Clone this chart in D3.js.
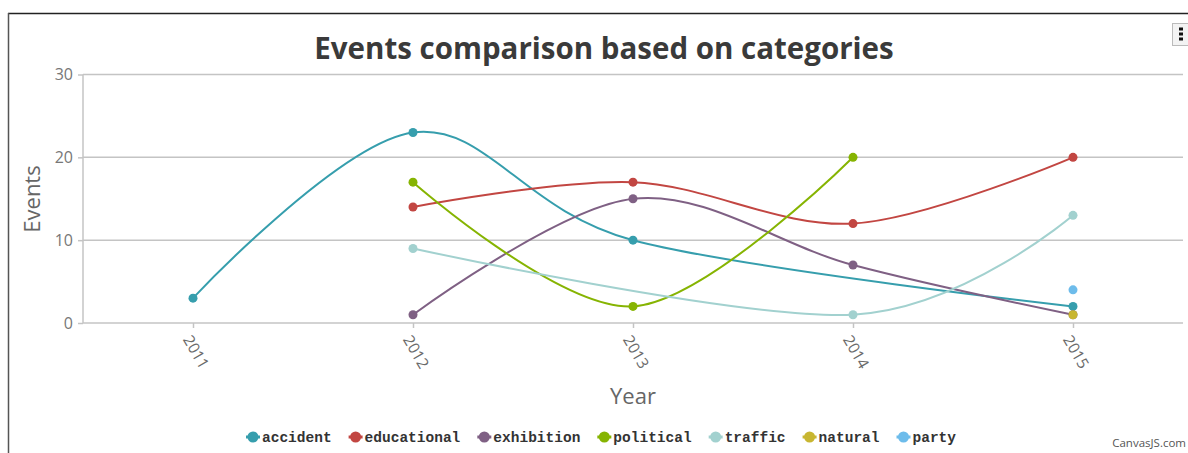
<!DOCTYPE html>
<html><head><meta charset="utf-8">
<script src="https://cdn.jsdelivr.net/npm/d3@7"></script>
<style>
html,body{margin:0;padding:0;background:#fff;}
svg{display:block;}
</style></head>
<body>
<svg id="chart" width="1188" height="453"></svg>
<script>
const years = [2011, 2012, 2013, 2014, 2015];
const yTicks = [0, 10, 20, 30];
const seriesNames = ["accident", "educational", "exhibition", "political", "traffic", "natural", "party"];
const seriesColors = ["#369EAD", "#C24642", "#7F6084", "#86B402", "#A2D1CF", "#C8B631", "#6DBCEB"];
const accident    = [[2011, 3], [2012, 23], [2013, 10], [2015, 2]];
const educational = [[2012, 14], [2013, 17], [2014, 12], [2015, 20]];
const exhibition  = [[2012, 1], [2013, 15], [2014, 7], [2015, 1]];
const political   = [[2012, 17], [2013, 2], [2014, 20]];
const traffic     = [[2012, 9], [2014, 1], [2015, 13]];
const natural     = [[2015, 1]];
const party       = [[2015, 4]];
const seriesData = [accident, educational, exhibition, political, traffic, natural, party];
const titleText = "Events comparison based on categories";
const xTitle = "Year", yTitle = "Events";

const svg = d3.select("#chart");
const font = "'Open Sans', sans-serif";

// frame
svg.append("line").attr("x1", 8).attr("x2", 1188).attr("y1", 13.5).attr("y2", 13.5).attr("stroke", "#222").attr("stroke-width", 1.5);
svg.append("line").attr("x1", 8.5).attr("x2", 8.5).attr("y1", 13).attr("y2", 453).attr("stroke", "#555").attr("stroke-width", 1.5);

const x = d3.scaleLinear().domain([2010.5, 2015.5]).range([83, 1183]);
const y = d3.scaleLinear().domain([0, 30]).range([323, 74.5]);

// gridlines
svg.append("g").selectAll("line").data(yTicks.filter(d => d > 0)).join("line")
  .attr("x1", 83).attr("x2", 1183).attr("y1", d => y(d)).attr("y2", d => y(d))
  .attr("stroke", "#c4c4c4").attr("stroke-width", 1.5);

// y axis
const yAxis = svg.append("g").attr("transform", "translate(83,0)")
  .call(d3.axisLeft(y).tickValues(yTicks).tickSize(5).tickPadding(5));
yAxis.select(".domain").attr("stroke", "#c4c4c4").attr("stroke-width", 1.5).attr("d", `M0,${y(30)}V${y(0)}`);
yAxis.selectAll(".tick line").attr("stroke", "#c4c4c4").attr("stroke-width", 1.5);
yAxis.selectAll(".tick text").attr("fill", "#777").style("font-family", font).style("font-size", "16px");

// x axis
const xAxis = svg.append("g").attr("transform", `translate(0,${y(0)})`)
  .call(d3.axisBottom(x).tickValues(years).tickFormat(d3.format("d")).tickSize(5).tickPadding(0));
xAxis.select(".domain").attr("stroke", "#c4c4c4").attr("stroke-width", 1.5).attr("d", `M83,0H1183`);
xAxis.selectAll(".tick line").attr("stroke", "#c4c4c4").attr("stroke-width", 1.5);
xAxis.selectAll(".tick text").attr("fill", "#6a6a6a").style("font-family", font).style("font-size", "15.5px")
  .attr("text-anchor", "start").attr("dy", "0.35em")
  .attr("transform", "translate(-2,11) rotate(60)");

// titles
svg.append("text").attr("x", 604).attr("y", 59).attr("text-anchor", "middle")
  .style("font-family", font).style("font-size", "29.5px").style("font-weight", "bold").attr("fill", "#3a3a3a")
  .text(titleText);
svg.append("text").attr("x", 633).attr("y", 404).attr("text-anchor", "middle")
  .style("font-family", font).style("font-size", "22px").attr("fill", "#666").text(xTitle);
svg.append("text").attr("transform", "translate(40,199) rotate(-90)").attr("text-anchor", "middle")
  .style("font-family", font).style("font-size", "22px").attr("fill", "#666").text(yTitle);

// series
const line = d3.line().x(d => x(d[0])).y(d => y(d[1])).curve(d3.curveCardinal.tension(0));
seriesData.forEach((data, i) => {
  const g = svg.append("g");
  if (data.length > 1) {
    g.append("path").datum(data).attr("d", line).attr("fill", "none")
      .attr("stroke", seriesColors[i]).attr("stroke-width", 2);
  }
  g.selectAll("circle").data(data).join("circle")
    .attr("cx", d => x(d[0])).attr("cy", d => y(d[1])).attr("r", 4.5).attr("fill", seriesColors[i]);
});

// legend
const legend = svg.append("g");
const lfont = "'Liberation Mono', 'Courier New', monospace";
let cx = 0;
seriesNames.forEach((name, i) => {
  const it = legend.append("g");
  it.append("line").attr("x1", 0).attr("x2", 14).attr("y1", 0).attr("y2", 0).attr("stroke", seriesColors[i]).attr("stroke-width", 3);
  it.append("circle").attr("cx", 7).attr("cy", 0).attr("r", 5.5).attr("fill", seriesColors[i]);
  const t = it.append("text").attr("x", 16).attr("y", 0).attr("dy", "0.35em")
    .style("font-family", lfont).style("font-size", "14.5px").style("font-weight", "bold").attr("fill", "#333").text(name);
  const w = 16 + t.node().getComputedTextLength();
  it.attr("transform", `translate(${cx},437)`);
  cx += w + 17;
});
const total = cx - 17;
legend.attr("transform", `translate(${601 - total / 2},0)`);

// credit
svg.append("text").attr("x", 1186).attr("y", 447).attr("text-anchor", "end")
  .style("font-family", font).style("font-size", "11.5px").attr("fill", "#555").text("CanvasJS.com");

// menu button
const mb = svg.append("g").attr("transform", "translate(1172,23)");
mb.append("rect").attr("x", 0.5).attr("y", 0.5).attr("width", 20).attr("height", 22).attr("fill", "#f3f3f3").attr("stroke", "#bbb");
[6, 11, 16].forEach(yy => mb.append("rect").attr("x", 7).attr("y", yy - 1.5).attr("width", 4).attr("height", 3).attr("fill", "#111"));
</script>
</body></html>
